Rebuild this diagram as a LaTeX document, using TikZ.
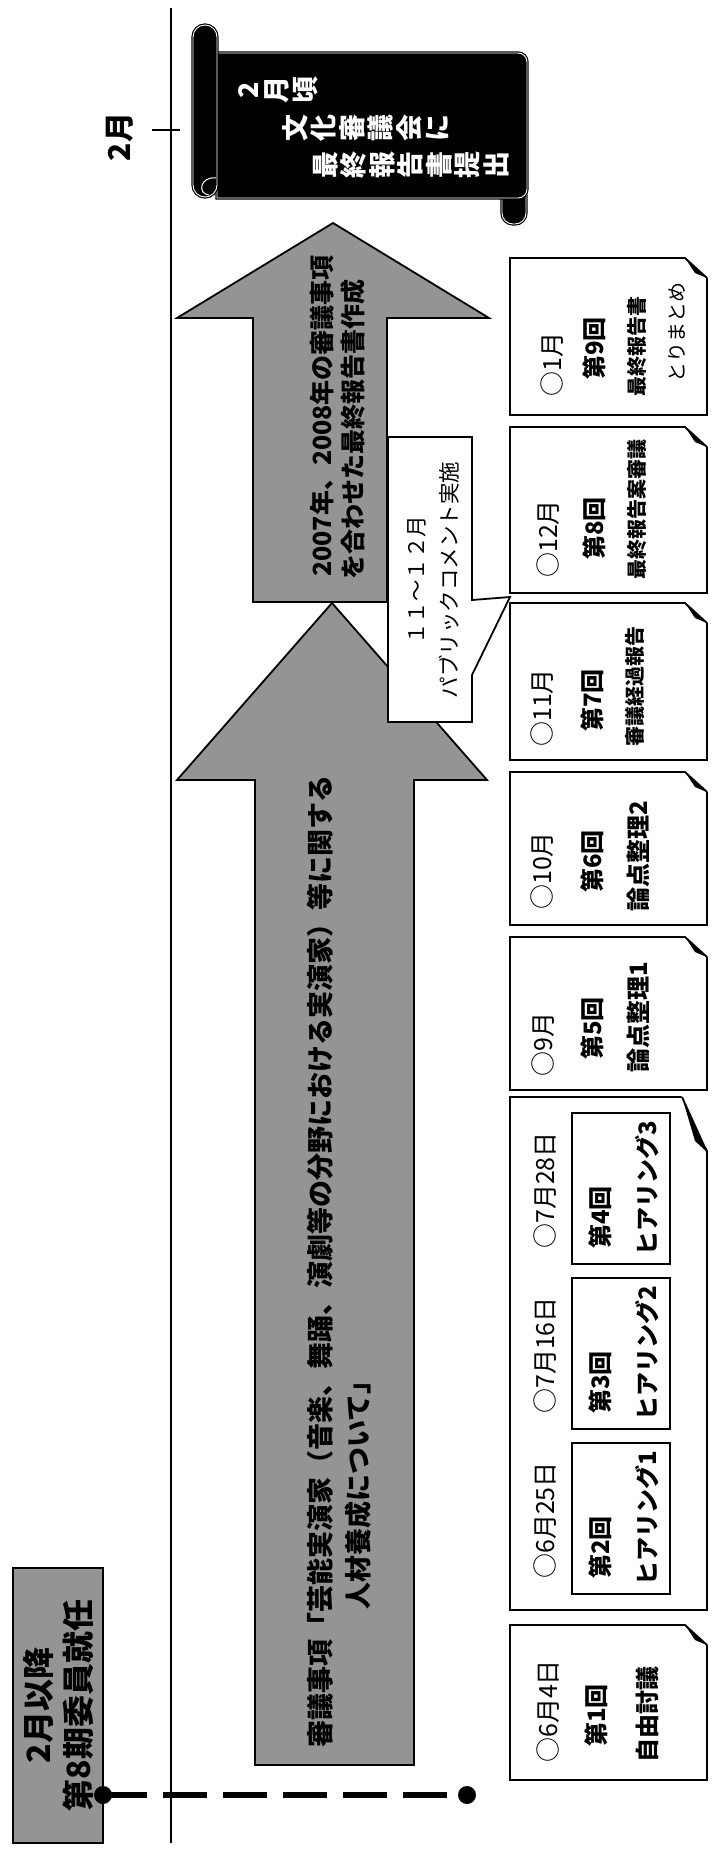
\documentclass[tikz,border=0pt]{standalone}
\usepackage{fontspec}
\setmainfont{Noto Sans CJK JP}
\tikzset{
  box/.style={draw, line width=1.8pt, inner sep=0pt, outer sep=0pt},
  kshade/.style={box, fill=black!42},
  kmeet/.style={box, fill=white, minimum width=197pt},
  khear/.style={box, fill=white, minimum width=98pt, minimum height=151pt},
  kscroll/.style={draw=black, fill=black, line width=1.2pt, double=white, double distance=0.9pt},
  vtext/.style={rotate=90, anchor=west, inner sep=0pt, font=\fontsize{24}{24}\selectfont\bfseries},
  vdate/.style={vtext, font=\fontsize{25}{25}\selectfont},
  vsmall/.style={vtext, font=\fontsize{20}{20}\selectfont\bfseries},
  vbig/.style={vtext, font=\fontsize{27}{27}\selectfont\bfseries},
  stack/.style={rotate=90, anchor=north, align=center, inner sep=0pt, text=white, font=\fontsize{27}{28.5}\selectfont\bfseries},
  dot/.style={circle, fill=black, inner sep=0pt, minimum size=18pt},
  flow/.style={line width=6pt, dash pattern=on 44pt off 16pt},
}

\begin{document}
\begin{tikzpicture}[x=1pt, y=-1pt]
  \useasboundingbox (0,0) rectangle (715,1855);
  % time line
  \draw[line width=1.8pt] (171,8) -- (171,1843);
  \draw[line width=1.8pt] (152,130) -- (180,130);
  \node[rotate=90, font=\fontsize{30}{30}\selectfont\bfseries] (feb) at (120,137) {2月};

  % scroll
  \draw[kscroll, rounded corners=11pt] (502,185) rectangle (526,224);
  \draw[kscroll] (217,53) [rounded corners=9pt] -- (527,53) -- (527,198) [sharp corners] -- (217,198) -- cycle;
  \draw[kscroll, rounded corners=12pt] (193,25) rectangle (217,197);
  \draw[white, line width=1pt] (216,178) .. controls (200,176) and (197,194) .. (209,195);
  \node[stack] (sc1) at (238,90) {2\\月\\頃};
  \node[stack] (sc2) at (282,128) {文\\化\\審\\議\\会\\に};
  \node[stack] (sc3) at (313,165) {最\\終\\報\\告\\書\\提\\出};

  % arrows
  \filldraw[kshade] (255,1765) -- (255,780) -- (177,780) -- (332,603) -- (487,780) -- (414,780) -- (414,1765) -- cycle;
  \filldraw[kshade] (253,602) -- (253,318) -- (177,318) -- (333,223) -- (489,318) -- (387,318) -- (387,602) -- cycle;
  \node[vbig, font=\fontsize{25}{25}\selectfont\bfseries] (goal1) at (322,577) {2007年、2008年の審議事項};
  \node[vbig, font=\fontsize{25}{25}\selectfont\bfseries] (goal2) at (353,580) {を合わせた最終報告書作成};
  \node[vbig] (theme1) at (320,1748) {審議事項「芸能実演家（音楽、舞踊、演劇等の分野における実演家）等に関する};
  \node[vbig] (theme2) at (358,1610) {人材養成について」};

  % public comment
  \draw[line width=1.8pt, fill=white] (388,437) -- (472,437) -- (472,600) -- (510,597) -- (472,675) -- (472,722) -- (388,722) -- cycle;
  \node[rotate=90, align=center, inner sep=0pt, font=\fontsize{21.5}{33}\selectfont] (pcom) at (433,580) {１１〜１２月\\パブリックコメント実施};

  % members
  \node[kshade, rotate=90, minimum width=275pt, minimum height=90pt, align=center, font=\fontsize{32}{40}\selectfont\bfseries] (start) at (58,1705.5) {2月以降\\第8期委員就任};
  \node[dot] (d1) at (103,1795) {};
  \node[dot] (d2) at (467,1795) {};
  \draw[flow] (d1.center) -- (d2.center);

  % meetings
  \node[kmeet, minimum height=157pt] (m9) at (608.5,336.5) {};
  \node[kmeet, minimum height=166pt] (m8) at (608.5,510) {};
  \node[kmeet, minimum height=157pt] (m7) at (608.5,681.5) {};
  \node[kmeet, minimum height=153pt] (m6) at (608.5,848.5) {};
  \node[kmeet, minimum height=153pt] (m5) at (608.5,1013.5) {};
  \node[kmeet, minimum height=513pt] (hear) at (608.5,1353.5) {};
  \node[kmeet, minimum height=155pt] (m1) at (608.5,1702.5) {};
  \foreach \b in {m9,m8,m7,m6,m5,m1} {
    \fill[white] ([xshift=-23pt,yshift=2pt]\b.north east) -- ([xshift=2pt,yshift=2pt]\b.north east) -- ([xshift=2pt,yshift=-21pt]\b.north east) -- cycle;
    \draw[line width=1.8pt] ([xshift=-22pt]\b.north east) -- ([yshift=-20pt]\b.north east);
    \fill ([xshift=-22pt]\b.north east) -- ([yshift=-20pt]\b.north east) -- ([xshift=-12pt,yshift=-15pt]\b.north east) -- cycle;
  }
  \fill[white] ([xshift=-26pt,yshift=2pt]hear.north east) -- ([xshift=2pt,yshift=2pt]hear.north east) -- ([xshift=2pt,yshift=-56pt]hear.north east) -- cycle;
  \draw[line width=1.8pt] ([xshift=-25pt]hear.north east) -- ([yshift=-55pt]hear.north east);
  \fill ([xshift=-25pt]hear.north east) -- ([yshift=-55pt]hear.north east) -- ([xshift=-12pt,yshift=-44pt]hear.north east) -- cycle;

  \node[vdate] (m9a) at (552,397) {○1月};
  \node[vtext] (m9b) at (594,380) {第9回};
  \node[vsmall] (m9c) at (637,397) {最終報告書};
  \node[vsmall, font=\fontsize{20}{20}\selectfont] (m9d) at (677,383) {とりまとめ};

  \node[vdate] (m8a) at (548,578) {○12月};
  \node[vtext] (m8b) at (594,560) {第8回};
  \node[vsmall] (m8c) at (637,580) {最終報告案審議};

  \node[vdate] (m7a) at (542,747) {○11月};
  \node[vtext] (m7b) at (592,732) {第7回};
  \node[vsmall] (m7c) at (635,747) {審議経過報告};

  \node[vdate] (m6a) at (542,910) {○10月};
  \node[vtext] (m6b) at (592,893) {第6回};
  \node[vtext] (m6c) at (638,912) {論点整理2};

  \node[vdate] (m5a) at (543,1077) {○9月};
  \node[vtext] (m5b) at (592,1060) {第5回};
  \node[vtext] (m5c) at (638,1073) {論点整理1};

  % hearings
  \node[khear] (h4) at (621,1188.5) {};
  \node[khear] (h3) at (621,1353.5) {};
  \node[khear] (h2) at (621,1518.5) {};
  \node[vdate] (h4a) at (545,1249) {○7月28日};
  \node[vdate] (h3a) at (545,1414) {○7月16日};
  \node[vdate] (h2a) at (545,1579) {○6月25日};
  \node[vtext] (h4b) at (600,1249) {第4回};
  \node[vtext] (h3b) at (600,1414) {第3回};
  \node[vtext] (h2b) at (600,1579) {第2回};
  \node[vtext] (h4c) at (647,1256) {ヒアリング3};
  \node[vtext] (h3c) at (647,1421) {ヒアリング2};
  \node[vtext] (h2c) at (647,1586) {ヒアリング1};

  \node[vdate] (m1a) at (548,1763) {○6月4日};
  \node[vtext] (m1b) at (596,1747) {第1回};
  \node[vtext] (m1c) at (647,1763) {自由討議};
\end{tikzpicture}
\end{document}
